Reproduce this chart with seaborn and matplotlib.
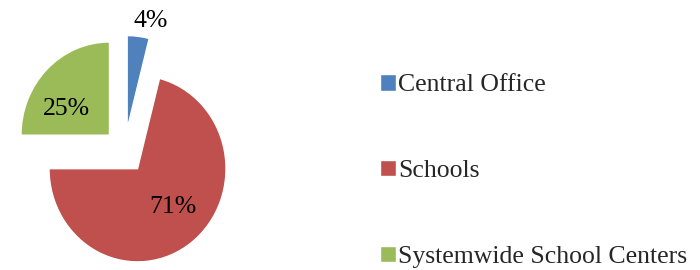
import numpy as np
import matplotlib
matplotlib.use('Agg')
import matplotlib.pyplot as plt
import seaborn as sns

# data
categories = ['Central Office', 'Schools', 'Systemwide School Centers']
shares = [4, 71, 25]
pct_labels = ['4%', '71%', '25%']
colors = ['#4F81BD', '#C0504D', '#9BBB59']

sns.set_style('white')
plt.rcParams['font.family'] = ['Liberation Serif', 'DejaVu Serif']

fig = plt.figure(figsize=(7, 2.7), dpi=100)
# pie centre ~ (124.5, 119) px from bottom-left; the original is a bit taller than wide
sx, sy = 88.5, 93.2
ax = fig.add_axes([0, 0, 249 / 700, 238 / 270])

wedges, _ = ax.pie(shares, colors=colors, startangle=90, counterclock=False,
                   explode=[0.24, 0.24, 0.24], radius=1)
ax.set_aspect('auto')
ax.set_xlim(-124.5 / sx, 124.5 / sx)
ax.set_ylim(-119 / sy, 119 / sy)
ax.axis('off')

# percentage labels (small slice labelled outside, like the original)
dists = [1.19, 0.57, 0.56]
turns = [-5.7, 6.7, 15.5]
for w, txt, d, t in zip(wedges, pct_labels, dists, turns):
    ang = np.deg2rad((w.theta1 + w.theta2) / 2 + t)
    cx, cy = w.center
    ax.text(cx + d * np.cos(ang), cy + d * np.sin(ang), txt,
            ha='center', va='center', fontsize=18.5, color='black')

leg = fig.legend(wedges, categories, loc='center left',
                 bbox_to_anchor=(380 / 700, 99 / 270), frameon=False,
                 fontsize=18.5, handlelength=0.62, handleheight=0.62,
                 handletextpad=0.1, labelspacing=2.47,
                 borderpad=0, borderaxespad=0)

fig.savefig('out.png', dpi=100)
